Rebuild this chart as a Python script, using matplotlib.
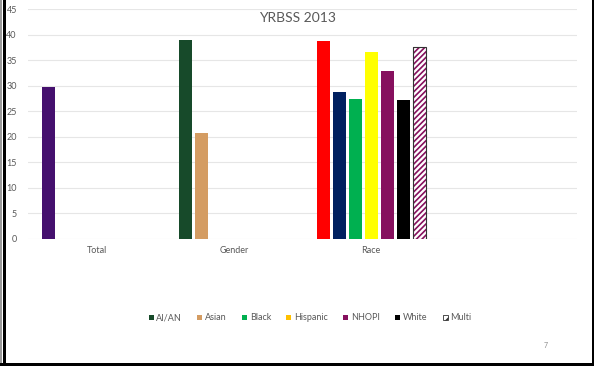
import matplotlib
matplotlib.use('Agg')
import matplotlib.pyplot as plt
import matplotlib.patches as mpatches
import numpy as np

plt.rcParams['font.family'] = ['Lato', 'DejaVu Sans']
plt.rcParams['hatch.linewidth'] = 1.2

# data
categories = ['Total', 'Gender', 'Race', '']
total_vals = [29.8]
gender_vals = [38.9, 20.7]
race_vals = [38.7, 28.8, 27.4, 36.7, 32.9, 27.2, 37.6]

total_colors = ['#45106e']
gender_colors = ['#174a2a', '#d49c62']
race_colors = ['#ff0000', '#002060', '#00b050', '#ffff00', '#86105e', '#000000', 'white']

legend_labels = ['AI/AN', 'Asian', 'Black', 'Hispanic', 'NHOPI', 'White', 'Multi']
legend_colors = ['#174a2a', '#d49c62', '#00b050', '#ffc000', '#86105e', '#000000', 'white']

W, H = 594, 366
fig = plt.figure(figsize=(W / 100, H / 100), dpi=100)
ax = fig.add_axes([28 / W, 1 - 239 / H, (577 - 28) / W, (239 - 9.3) / H])

slot = 16 / 137.25
bw = 13 / 137.25

def draw_group(ci, vals, colors):
    for i, (v, c) in enumerate(zip(vals, colors)):
        x = ci + (i - 3) * slot
        if c == 'white':
            ax.bar(x, v, width=bw, color='white', edgecolor='#86105e',
                   hatch='//////', linewidth=0, zorder=3)
            ax.bar(x, v, width=bw, color='none', edgecolor='#333333',
                   linewidth=0.8, zorder=4)
        else:
            ax.bar(x, v, width=bw, color=c, linewidth=0, zorder=3)

draw_group(0, total_vals, total_colors)
draw_group(1, gender_vals, gender_colors)
draw_group(2, race_vals, race_colors)

ax.set_xlim(-0.5, len(categories) - 0.5)
ax.set_ylim(0, 45)
ax.set_yticks(np.arange(0, 46, 5))
ax.set_xticks(range(len(categories)))
ax.set_xticklabels(categories)
ax.tick_params(axis='both', length=0, labelsize=6.5, colors='#595959')
ax.tick_params(axis='y', pad=8)
ax.tick_params(axis='x', pad=5)
for s in ax.spines.values():
    s.set_visible(False)
ax.grid(axis='y', color='#e6e6e6', linewidth=0.8, zorder=0)
ax.set_axisbelow(True)

fig.text(297 / W, 1 - 18 / H, 'YRBSS 2013', ha='center', va='center',
         fontsize=10, color='#595959')

handles = []
for lab, c in zip(legend_labels, legend_colors):
    if c == 'white':
        handles.append(mpatches.Patch(facecolor='white', edgecolor='#333333',
                                      hatch='////', linewidth=0.6, label=lab))
    else:
        handles.append(mpatches.Patch(facecolor=c, linewidth=0, label=lab))
fig.legend(handles=handles, loc='center', bbox_to_anchor=(310 / W, 1 - 318 / H),
           ncol=7, frameon=False, fontsize=6.5, handlelength=0.55, handleheight=0.55,
           handletextpad=0.3, columnspacing=1.7, labelcolor='#595959')

fig.text(546 / W, 1 - 346 / H, '7', ha='center', va='center', fontsize=5, color='#8c8c8c')

# slide border
fig.add_artist(mpatches.Rectangle((0, 0), 1.5 / W, 1, transform=fig.transFigure,
                                  color='#9a9a9a', lw=0))
fig.add_artist(mpatches.Rectangle((3 / W, 0), 3 / W, 1, transform=fig.transFigure,
                                  color='black', lw=0))
fig.add_artist(mpatches.Rectangle((591.5 / W, 0), 2.5 / W, 1, transform=fig.transFigure,
                                  color='black', lw=0))
fig.add_artist(mpatches.Rectangle((0, 0), 1, 3.5 / H, transform=fig.transFigure,
                                  color='black', lw=0))

fig.savefig('out.png', dpi=100)
